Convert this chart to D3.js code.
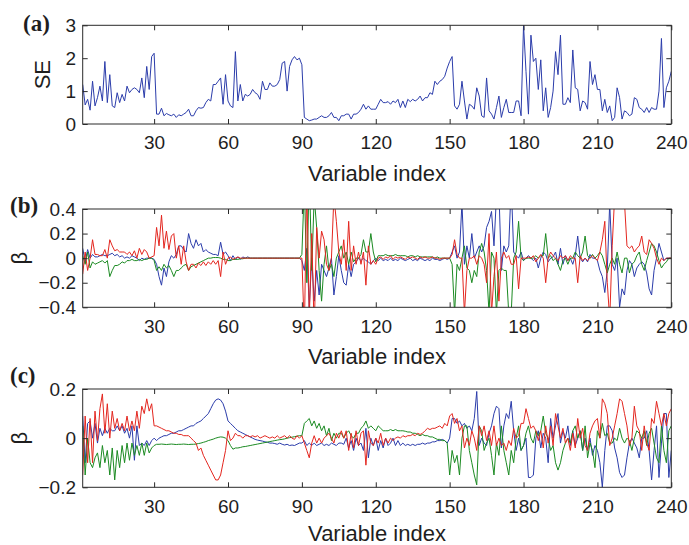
<!DOCTYPE html>
<html>
<head>
<meta charset="utf-8">
<script src="https://cdn.jsdelivr.net/npm/d3@7"></script>
<style>
  html, body { margin: 0; padding: 0; background: #fff; }
  svg { display: block; }
</style>
</head>
<body>
<svg id="chart" width="689" height="545"></svg>
<script>
// ---- data -------------------------------------------------------------
const xTicks = [30, 60, 90, 120, 150, 180, 210, 240];
const seTicks = [0, 1, 2, 3];
const betaTicksB = [-0.4, -0.2, 0, 0.2, 0.4];
const betaTicksC = [-0.2, 0, 0.2];

// (a) standard error per variable
const seValues = [
  1.2,0.58,0.75,0.42,1.3,0.55,0.8,1.15,0.7,1.9,
  0.65,1.5,0.55,0.5,0.95,0.65,0.9,0.7,1.15,0.95,
  1.05,1.1,1.05,0.95,1.4,0.8,1.75,1.05,2.05,2.15,
  0.3,0.3,0.48,0.25,0.32,0.28,0.25,0.3,0.2,0.28,
  0.25,0.3,0.35,0.45,0.25,0.25,0.4,0.5,0.48,0.5,
  0.65,0.75,0.7,1.2,1.2,1.3,1.4,0.6,1.5,0.7,
  0.55,0.5,2.2,0.7,1.2,0.7,0.9,0.85,0.9,1.05,
  0.95,0.9,0.75,1.3,1.05,1.05,1.25,1.15,1.15,1.2,
  1.35,1.85,1.9,1.0,1.75,1.95,2.05,1.95,2.0,1.8,
  0.2,0.15,0.1,0.12,0.15,0.15,0.2,0.25,0.2,0.2,
  0.25,0.35,0.2,0.2,0.1,0.25,0.25,0.3,0.3,0.15,
  0.3,0.3,0.35,0.45,0.6,0.45,0.55,0.45,0.45,0.45,
  0.6,0.75,0.65,0.65,0.68,0.6,0.7,0.65,0.75,0.5,
  0.7,0.5,0.75,0.68,0.75,0.7,0.75,0.85,0.7,0.8,
  0.8,0.95,0.9,1.3,1.2,1.3,1.35,1.45,1.7,1.9,
  2.05,0.55,0.45,0.6,1.3,0.7,0.15,0.6,0.55,0.45,
  1.1,0.85,0.25,0.2,1.4,0.4,0.3,0.15,0.5,0.85,
  0.2,0.5,0.75,0.35,0.35,0.35,0.7,0.7,0.25,3.0,
  1.6,0.3,2.7,1.9,2.0,1.05,1.95,0.4,1.1,0.2,
  0.5,1.0,2.2,1.5,2.7,0.6,0.6,0.8,0.65,2.25,
  1.1,1.05,0.4,0.7,0.65,0.45,1.9,1.2,1.5,1.05,
  1.05,0.4,0.75,0.35,0.55,0.1,0.2,1.1,0.8,0.15,
  0.4,0.35,0.25,0.3,0.8,0.75,0.5,0.45,0.35,0.5,
  0.35,0.5,0.45,0.45,1.0,2.6,0.5,1.1,1.3,1.6
];

// (b) coefficients, three components
const betaB1 = [
  0.08,-0.03,0.07,0.0,0.03,0.01,0.01,0.02,0.03,0.02,
  0.02,0.03,0.04,0.02,0.03,0.01,0.02,0.0,0.01,0.0,
  0.02,0.01,0.0,-0.02,0.0,-0.01,0.0,0.0,0.0,-0.01,
  -0.05,-0.15,-0.22,-0.08,-0.15,-0.03,0.02,0.0,0.03,0.1,
  0.1,0.07,0.05,0.2,0.12,0.08,0.15,0.1,0.12,0.05,
  0.07,0.05,0.04,0.03,0.03,0.02,0.13,0.03,0.05,0.02,
  -0.02,0.02,-0.01,0.01,-0.01,0.01,0.0,0.01,0.0,0.0,
  0,0,0,0,0,0,0,0,0,0,
  0,0,0,0,0,0,0,0,0,-0.02,
  -0.1,0.08,-0.4,0.0,-0.35,-0.1,-0.3,-0.05,-0.1,-0.15,
  -0.08,0.0,-0.3,-0.15,0.02,-0.1,-0.2,-0.22,-0.05,-0.15,
  -0.05,-0.03,0.0,-0.02,0.0,-0.02,-0.03,-0.05,-0.02,0.0,
  -0.02,0.0,-0.02,-0.01,-0.02,0.0,-0.02,-0.01,-0.02,0.0,
  -0.01,-0.02,-0.01,0.0,-0.02,-0.01,-0.02,0.0,-0.01,-0.02,
  -0.01,-0.02,0.0,-0.01,-0.01,-0.02,-0.01,0.0,-0.01,0.0,
  0.05,0.1,0.0,0.05,0.45,-0.05,0.1,0.0,0.2,0.0,
  0.05,0.1,0.05,0.1,0.25,0.3,0.38,0.1,0.5,0.55,
  -0.1,0.1,0.05,0.1,0.6,0.05,0.02,0.0,0.05,-0.02,
  0.0,0.02,0.0,-0.02,0.0,-0.08,0.0,0.05,0.03,-0.03,
  0.0,0.01,0.05,-0.05,0.08,-0.05,0.02,-0.02,0.0,-0.05,
  0.02,0.18,0.0,-0.03,0.0,-0.03,0.03,0.0,0.0,-0.02,
  -0.1,-0.15,-0.28,-0.1,0.45,-0.05,-0.1,0.0,-0.4,-0.25,
  -0.3,-0.1,-0.02,-0.05,-0.15,-0.08,-0.05,-0.03,-0.05,-0.12,
  -0.25,-0.3,-0.1,0.0,0.12,0.05,-0.02,0.0,0.0,0.0
];
const betaB2 = [
  0.02,-0.05,0.05,-0.08,-0.03,-0.05,-0.04,-0.03,-0.02,-0.04,
  -0.02,-0.15,-0.1,-0.06,-0.06,-0.05,-0.03,-0.04,-0.02,-0.02,
  -0.01,-0.02,-0.02,-0.01,-0.02,-0.01,-0.01,0.0,0.0,-0.02,
  -0.1,-0.07,-0.1,-0.05,-0.08,-0.06,-0.1,-0.15,-0.1,-0.1,
  -0.08,-0.06,-0.05,-0.1,-0.07,-0.06,-0.05,-0.04,-0.03,-0.02,
  -0.01,0.0,0.0,0.005,0.005,0.005,0.0,-0.01,-0.01,-0.02,
  -0.02,-0.01,-0.01,-0.01,-0.005,-0.005,0.0,0.0,0.0,0.0,
  0,0,0,0,0,0,0,0,0,0,
  0,0,0,0,0,0,0,0,0,0.03,
  0.6,-0.2,0.7,-0.1,0.5,0.25,-0.1,-0.35,-0.05,0.1,
  -0.1,-0.05,-0.15,0.0,0.05,0.1,0.0,0.05,-0.05,0.05,
  -0.03,0.0,0.0,0.03,0.15,0.05,0.05,0.2,0.05,-0.03,
  0.02,0.02,0.02,0.03,0.02,0.02,0.02,0.03,0.02,0.02,
  0.02,0.02,0.01,0.02,0.02,0.01,0.02,0.01,0.01,0.01,
  0.01,0.01,0.01,0.0,0.01,0.0,0.0,0.0,0.0,0.0,
  -0.05,-0.45,-0.05,-0.1,0.0,0.1,-0.08,-0.1,-0.2,-0.1,
  -0.15,0.05,0.12,0.05,-0.1,-0.45,0.05,0.0,-0.45,-0.1,
  -0.08,-0.1,-0.1,-0.45,-0.45,0.0,0.05,0.3,0.0,-0.02,
  0.0,0.0,0.0,0.0,0.02,0.0,0.02,0.02,0.2,0.0,
  0.02,-0.02,0.0,-0.05,-0.1,-0.02,0.0,-0.05,0.0,0.0,
  0.05,0.02,0.0,0.05,0.18,0.02,0.0,0.03,0.0,0.02,
  0.05,0.02,-0.05,-0.12,-0.05,0.0,-0.05,0.05,-0.05,-0.12,
  0.0,0.0,-0.12,-0.05,-0.03,0.02,0.05,-0.05,-0.1,-0.02,
  0.05,0.12,0.1,0.05,-0.02,-0.08,-0.05,-0.03,0.0,0.0
];
const betaB3 = [
  -0.13,0.05,-0.1,0.0,0.15,0.03,0.03,0.02,0.02,0.07,
  0.0,0.15,0.1,0.06,0.07,0.05,0.05,0.05,0.03,0.05,
  0.02,0.06,0.0,0.08,0.03,0.07,0.05,0.0,0.01,0.02,
  0.25,0.1,0.35,0.08,0.22,0.07,0.18,0.2,0.0,0.1,
  -0.05,0.1,-0.03,-0.1,-0.05,-0.05,-0.08,-0.04,-0.06,-0.03,
  -0.06,-0.03,-0.05,-0.02,-0.05,-0.02,-0.15,0.05,-0.05,0.0,
  0.01,-0.01,0.0,0.01,0.0,0.0,0.0,0.0,0.0,0.0,
  0,0,0,0,0,0,0,0,0,0,
  0,0,0,0,0,0,0,0,0,0,
  -0.6,0.6,-0.5,0.2,-0.6,0.25,0.0,0.22,0.15,-0.05,
  -0.1,0.0,0.5,0.3,0.05,-0.05,0.15,-0.1,0.3,-0.1,
  0.1,-0.05,0.05,-0.05,0.05,-0.22,0.1,-0.05,-0.02,-0.05,
  0.0,0.01,-0.01,0.01,0.0,0.02,-0.01,0.01,0.0,0.01,
  0.0,-0.01,0.01,0.0,0.01,0.0,-0.01,0.01,0.0,0.01,
  0.0,0.0,0.01,0.0,0.0,-0.01,0.0,0.0,0.0,0.0,
  0.03,0.15,0.03,0.0,0.0,-0.45,-0.1,0.0,0.0,0.02,
  -0.05,0.02,0.0,-0.05,-0.2,0.2,-0.45,-0.15,0.05,-0.35,
  0.0,0.05,0.0,0.02,-0.05,-0.05,0.02,-0.25,0.0,0.0,
  0.0,0.01,0.0,0.02,-0.03,0.0,0.03,0.0,-0.2,0.0,
  0.05,0.02,0.0,-0.02,0.02,0.0,0.02,-0.02,0.02,0.0,
  0.0,-0.2,0.02,-0.02,0.0,-0.02,0.0,0.02,0.0,-0.02,
  0.05,0.15,0.3,-0.2,-0.5,0.1,0.5,0.55,0.5,0.6,
  0.45,0.1,0.08,0.1,0.05,0.08,0.1,0.18,0.05,0.03,
  0.15,0.12,0.08,0.0,-0.05,0.0,-0.02,0.0,0.0,0.0
];

// (c) coefficients, three components
const betaC1 = [
  0.09,-0.1,0.06,0.07,0.0,0.06,-0.02,0.04,0.01,0.04,
  0.02,0.04,0.03,0.03,0.05,0.03,0.05,0.02,0.04,0.0,
  0.05,-0.09,0.05,-0.03,-0.02,-0.03,-0.01,-0.03,-0.01,0.0,
  -0.01,0.0,0.005,0.01,0.01,0.015,0.02,0.02,0.025,0.03,
  0.03,0.035,0.04,0.045,0.05,0.05,0.06,0.065,0.07,0.08,
  0.09,0.1,0.12,0.14,0.155,0.16,0.155,0.14,0.11,0.07,
  0.06,0.05,0.04,0.03,0.025,0.02,0.015,0.01,0.005,0.0,
  -0.005,-0.008,-0.01,-0.012,-0.015,-0.017,-0.02,-0.02,-0.022,-0.025,
  -0.02,-0.025,-0.028,-0.025,-0.03,-0.028,-0.03,-0.025,-0.02,-0.02,
  -0.01,-0.03,-0.02,-0.03,-0.02,-0.03,-0.025,-0.02,-0.03,-0.025,
  -0.03,-0.02,-0.025,-0.03,-0.02,-0.02,-0.025,0.0,-0.04,-0.01,
  -0.05,0.0,-0.03,-0.02,-0.05,0.04,-0.08,0.0,-0.03,0.0,
  -0.05,-0.01,-0.04,0.0,-0.03,-0.02,0.0,-0.03,-0.01,-0.03,
  -0.02,-0.03,-0.025,-0.03,-0.025,-0.03,-0.025,-0.025,-0.02,-0.025,
  -0.02,-0.02,-0.015,-0.015,-0.01,-0.01,-0.005,-0.01,-0.02,0.0,
  0.08,0.08,0.06,0.07,0.05,0.06,0.04,0.05,0.03,0.08,
  0.19,-0.03,0.0,-0.02,-0.03,0.02,0.05,0.1,0.13,0.12,
  -0.04,0.05,0.1,0.08,0.15,0.03,-0.05,0.0,-0.05,-0.03,
  0.0,-0.16,-0.16,-0.15,0.0,0.03,-0.04,0.02,0.0,-0.1,
  0.08,0.0,0.05,0.1,-0.02,0.03,0.0,0.05,-0.03,0.03,
  -0.03,0.0,0.03,-0.05,0.0,-0.05,0.0,-0.07,-0.03,-0.05,
  -0.1,-0.2,-0.05,0.05,0.05,0.03,-0.04,-0.08,-0.14,-0.16,
  -0.15,-0.08,-0.02,0.0,-0.02,-0.04,-0.08,0.0,0.0,0.03,
  -0.05,-0.17,-0.05,0.05,-0.16,-0.02,0.1,0.1,-0.16,-0.05
];
const betaC2 = [
  0.05,-0.15,0.0,-0.1,-0.12,-0.08,-0.06,-0.12,-0.03,-0.1,
  -0.05,-0.15,-0.04,-0.17,-0.05,-0.12,-0.03,-0.1,-0.02,-0.09,
  -0.02,-0.07,-0.03,-0.07,-0.02,-0.07,-0.02,-0.06,-0.04,-0.03,
  -0.025,-0.025,-0.024,-0.025,-0.026,-0.025,-0.024,-0.025,-0.026,-0.025,
  -0.025,-0.024,-0.025,-0.026,-0.025,-0.025,-0.024,-0.022,-0.02,-0.017,
  -0.014,-0.01,-0.007,-0.004,0.0,0.003,0.005,0.004,0.0,-0.01,
  -0.03,-0.045,-0.04,-0.04,-0.038,-0.035,-0.034,-0.032,-0.03,-0.028,
  -0.026,-0.024,-0.022,-0.02,-0.018,-0.016,-0.014,-0.012,-0.01,-0.008,
  -0.006,-0.005,-0.003,0.0,0.002,0.004,0.006,0.008,0.01,0.01,
  0.06,0.07,0.08,0.05,0.07,0.04,0.06,0.03,0.05,0.01,
  0.04,-0.01,0.02,0.0,0.02,0.02,0.0,0.02,0.03,0.01,
  0.0,0.02,0.02,0.04,0.05,0.07,0.04,0.05,0.04,0.03,
  0.05,0.04,0.03,0.03,0.03,0.035,0.03,0.035,0.03,0.03,
  0.03,0.028,0.025,0.025,0.02,0.02,0.015,0.01,0.015,0.01,
  0.01,0.005,0.005,0.0,-0.005,-0.005,-0.01,-0.01,-0.02,-0.15,
  -0.05,-0.1,-0.07,-0.15,0.0,0.05,0.05,-0.05,-0.1,-0.15,
  -0.19,0.05,0.03,-0.05,-0.02,0.0,-0.07,-0.15,-0.02,-0.07,
  0.05,-0.05,-0.1,-0.15,-0.05,-0.1,0.0,0.05,-0.05,-0.03,
  0.02,0.05,0.0,-0.02,0.03,0.01,0.03,0.09,0.02,0.0,
  -0.05,-0.03,-0.1,-0.13,-0.1,-0.05,-0.02,0.0,-0.02,0.03,
  0.05,0.0,0.03,-0.05,0.05,-0.08,-0.02,-0.05,-0.12,0.03,
  0.0,0.06,0.01,0.02,-0.02,-0.02,0.0,-0.01,0.04,0.0,
  -0.02,0.0,-0.01,-0.05,0.0,0.03,0.02,0.0,0.03,-0.03,
  0.02,0.04,-0.02,-0.08,-0.1,0.05,-0.05,-0.1,0.03,0.05
];
const betaC3 = [
  -0.15,0.09,-0.1,0.08,-0.1,0.11,-0.01,0.12,0.18,0.02,
  0.14,0.0,0.11,0.04,0.08,0.03,0.06,0.03,0.09,0.03,
  0.07,0.03,0.11,0.04,0.13,0.1,0.16,0.11,0.14,0.05,
  0.05,0.045,0.04,0.035,0.03,0.03,0.025,0.02,0.02,0.015,
  0.015,0.01,0.01,0.01,0.0,-0.01,-0.02,-0.05,-0.04,-0.07,
  -0.09,-0.11,-0.13,-0.15,-0.17,-0.17,-0.15,-0.1,-0.05,0.03,
  -0.01,0.0,0.02,0.01,0.01,0.0,0.01,0.01,0.005,0.01,
  0.005,0.01,0.0,0.005,0.01,0.005,0.0,0.005,0.0,0.01,
  0.0,0.005,0.01,0.0,0.01,0.0,-0.005,0.01,0.0,0.01,
  -0.02,-0.05,-0.08,-0.02,0.01,-0.02,0.0,-0.02,0.0,0.01,
  0.02,0.0,-0.02,0.02,0.0,0.03,0.0,0.03,-0.05,0.02,
  -0.04,0.03,-0.03,0.02,0.03,-0.11,0.03,-0.02,-0.03,0.0,
  -0.02,0.02,-0.03,0.0,-0.02,0.0,-0.01,0.0,0.005,0.0,
  0.01,0.005,0.01,0.01,0.015,0.01,0.02,0.015,0.02,0.03,
  0.04,0.035,0.04,0.04,0.045,0.05,0.04,0.06,0.05,0.09,
  0.1,0.06,0.08,0.03,0.05,-0.04,0.0,-0.03,0.03,0.0,
  -0.05,0.05,0.01,0.05,-0.01,0.03,-0.03,0.05,-0.03,0.0,
  -0.03,-0.02,-0.05,-0.01,-0.03,0.04,0.0,0.01,0.06,0.06,
  0.12,0.08,0.04,0.05,0.03,-0.01,0.03,-0.04,0.05,-0.02,
  0.05,-0.03,0.1,0.05,0.0,0.04,-0.02,0.0,-0.05,0.02,
  -0.04,0.08,0.0,0.04,-0.03,-0.05,0.02,0.05,0.07,0.08,
  0.0,0.16,0.14,0.1,-0.03,0.0,0.05,0.1,0.16,0.15,
  0.1,0.05,-0.03,0.0,0.13,0.05,0.03,-0.05,0.05,-0.02,
  -0.05,0.08,0.06,0.15,0.1,0.05,0.1,0.05,0.1,0.12
];

// ---- layout & style ---------------------------------------------------
const COLORS = { blue: "#2b3caa", green: "#1b8a22", red: "#e3261f" };
const FRAME = "#2a2a2a";
const TEXT = "#1e1e1e";
const SANS = "'Liberation Sans', Arial, Helvetica, sans-serif";
const SERIF = "'Liberation Serif', 'Times New Roman', serif";
const plotLeft = 82.7, plotRight = 671.3;

const panels = [
  { tag: "(a)", tagX: 23, tagY: 31, top: 25.3, bottom: 124, domain: [0, 3], ticks: seTicks,
    ylabel: "SE", ylabelX: 50, xlabelGap: 57,
    series: [{ values: seValues, color: COLORS.blue }] },
  { tag: "(b)", tagX: 10, tagY: 213, top: 209, bottom: 307.3, domain: [-0.4, 0.4], ticks: betaTicksB,
    ylabel: "β", ylabelX: 27, xlabelGap: 57,
    series: [{ values: betaB1, color: COLORS.blue }, { values: betaB2, color: COLORS.green },
             { values: betaB3, color: COLORS.red }] },
  { tag: "(c)", tagX: 10, tagY: 383, top: 389, bottom: 487.3, domain: [-0.2, 0.2], ticks: betaTicksC,
    ylabel: "β", ylabelX: 27, xlabelGap: 54,
    series: [{ values: betaC1, color: COLORS.blue }, { values: betaC2, color: COLORS.green },
             { values: betaC3, color: COLORS.red }] }
];

const svg = d3.select("#chart");
const x = d3.scaleLinear().domain([1, 240]).range([plotLeft, plotRight]);
const fmt = d => d === 0 ? "0" : (d < 0 ? "\u2212" : "") + String(Math.abs(d));

panels.forEach((p, k) => {
  const y = d3.scaleLinear().domain(p.domain).range([p.bottom, p.top]);
  const clipId = "plot-clip-" + k;
  svg.append("clipPath").attr("id", clipId)
    .append("rect")
    .attr("x", plotLeft).attr("y", p.top)
    .attr("width", plotRight - plotLeft).attr("height", p.bottom - p.top);

  const line = d3.line().x((d, i) => x(i + 1)).y(d => y(d));
  const lines = svg.append("g").attr("clip-path", `url(#${clipId})`);
  p.series.forEach(s => {
    lines.append("path").datum(s.values)
      .attr("d", line)
      .attr("fill", "none")
      .attr("stroke", s.color)
      .attr("stroke-width", 1)
      .attr("stroke-linejoin", "round");
  });

  // axes with inward ticks on all four sides
  const styleAxis = g => {
    g.select(".domain").remove();
    g.selectAll(".tick line").attr("stroke", FRAME).attr("stroke-width", 1);
    g.selectAll(".tick text").attr("fill", TEXT)
      .style("font-family", SANS).style("font-size", "19px");
  };
  svg.append("g").attr("transform", `translate(0,${p.bottom})`)
    .call(d3.axisBottom(x).tickValues(xTicks).tickSizeInner(-5).tickSizeOuter(0).tickPadding(12))
    .call(styleAxis);
  svg.append("g").attr("transform", `translate(0,${p.top})`)
    .call(d3.axisTop(x).tickValues(xTicks).tickSizeInner(-5).tickSizeOuter(0).tickFormat(""))
    .call(styleAxis);
  svg.append("g").attr("transform", `translate(${plotLeft},0)`)
    .call(d3.axisLeft(y).tickValues(p.ticks).tickSizeInner(-5).tickSizeOuter(0).tickPadding(6.7).tickFormat(fmt))
    .call(styleAxis);
  svg.append("g").attr("transform", `translate(${plotRight},0)`)
    .call(d3.axisRight(y).tickValues(p.ticks).tickSizeInner(-5).tickSizeOuter(0).tickFormat(""))
    .call(styleAxis);

  // frame
  svg.append("rect")
    .attr("x", plotLeft).attr("y", p.top)
    .attr("width", plotRight - plotLeft).attr("height", p.bottom - p.top)
    .attr("fill", "none").attr("stroke", FRAME).attr("stroke-width", 1);

  // axis titles
  svg.append("text")
    .attr("x", (plotLeft + plotRight) / 2).attr("y", p.bottom + p.xlabelGap)
    .attr("text-anchor", "middle").attr("fill", TEXT)
    .style("font-family", SANS).style("font-size", "22px")
    .text("Variable index");
  svg.append("text")
    .attr("transform", `translate(${p.ylabelX},${(p.top + p.bottom) / 2}) rotate(-90)`)
    .attr("text-anchor", "middle").attr("fill", TEXT)
    .style("font-family", SANS).style("font-size", "22px")
    .text(p.ylabel);

  // panel tag
  svg.append("text")
    .attr("x", p.tagX).attr("y", p.tagY)
    .attr("fill", TEXT)
    .style("font-family", SERIF).style("font-size", "23px").style("font-weight", "bold")
    .text(p.tag);
});
</script>
</body>
</html>
